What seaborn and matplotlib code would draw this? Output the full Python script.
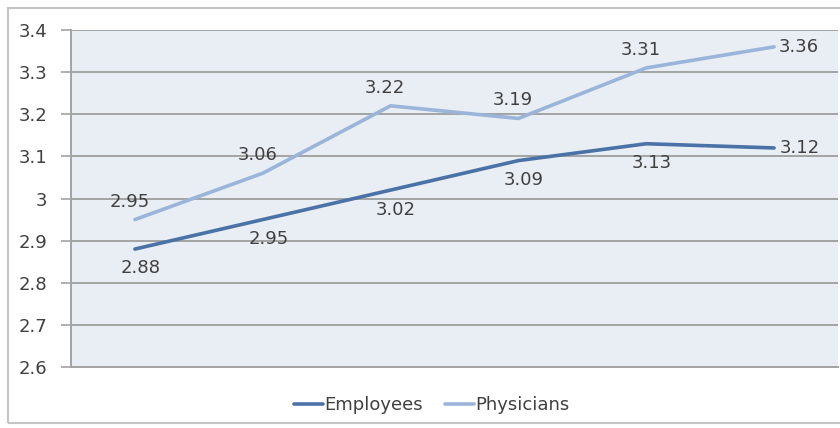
import pandas as pd
import matplotlib.pyplot as plt
import seaborn as sns
from matplotlib.patches import Rectangle

# Valores (6 períodos, sem rótulos no eixo x)
periodos = [1, 2, 3, 4, 5, 6]
employees = [2.88, 2.95, 3.02, 3.09, 3.13, 3.12]
physicians = [2.95, 3.06, 3.22, 3.19, 3.31, 3.36]
y_ticks = [2.6, 2.7, 2.8, 2.9, 3.0, 3.1, 3.2, 3.3, 3.4]
y_labels = ["2.6", "2.7", "2.8", "2.9", "3", "3.1", "3.2", "3.3", "3.4"]

df = pd.DataFrame({
    "periodo": periodos * 2,
    "valor": employees + physicians,
    "grupo": ["Employees"] * len(employees) + ["Physicians"] * len(physicians),
})

cores = {"Employees": "#4a72a6", "Physicians": "#9ab5d9"}
texto = "#404040"

sns.set_style("white")
plt.rcParams["font.family"] = ["DejaVu Sans"]

fig = plt.figure(figsize=(8.4, 4.28), dpi=100)
ax = fig.add_axes([71 / 840, 1 - 367 / 428, (838 - 71) / 840, (367 - 30) / 428])

sns.lineplot(data=df, x="periodo", y="valor", hue="grupo", palette=cores,
             linewidth=2.6, ax=ax, legend=False)

ax.set_facecolor("#e9edf4")
ax.set_xlim(periodos[0] - 0.5, periodos[-1] + 0.5)
ax.set_ylim(2.6, 3.4)
ax.set_yticks(y_ticks)
ax.set_yticklabels(y_labels)
ax.set_xticks([])
ax.set_xlabel("")
ax.set_ylabel("")
ax.grid(axis="y", color="#a3a3a3", linewidth=1.4)
ax.set_axisbelow(True)
ax.tick_params(axis="y", length=7, width=1.2, color="#a3a3a3", pad=10,
               labelsize=13, labelcolor=texto, left=True)
for lado in ["top", "right"]:
    ax.spines[lado].set_visible(False)
ax.spines["left"].set_color("#a3a3a3")
ax.spines["left"].set_linewidth(1.4)
ax.spines["bottom"].set_color("#a3a3a3")
ax.spines["bottom"].set_linewidth(1.4)

# Rótulos dos pontos
n = len(periodos)
for i, (x, v) in enumerate(zip(periodos, employees)):
    if i == n - 1:
        ax.annotate(f"{v:.2f}", (x, v), xytext=(4, 0), textcoords="offset points",
                    ha="left", va="center", fontsize=13, color=texto)
    else:
        ax.annotate(f"{v:.2f}", (x, v), xytext=(4, -14), textcoords="offset points",
                    ha="center", va="center", fontsize=13, color=texto)
for i, (x, v) in enumerate(zip(periodos, physicians)):
    if i == n - 1:
        ax.annotate(f"{v:.2f}", (x, v), xytext=(3, 0), textcoords="offset points",
                    ha="left", va="center", fontsize=13, color=texto)
    else:
        ax.annotate(f"{v:.2f}", (x, v), xytext=(-4, 13), textcoords="offset points",
                    ha="center", va="center", fontsize=13, color=texto)

# Legenda
handles = [plt.Line2D([], [], color=cores[g], linewidth=2.6) for g in ["Employees", "Physicians"]]
fig.legend(handles, ["Employees", "Physicians"], loc="center",
           bbox_to_anchor=(432 / 840, 1 - 405 / 428), ncol=2, frameon=False,
           fontsize=13, handlelength=1.6, handletextpad=0.1, columnspacing=1.2,
           labelcolor=texto)

# Moldura externa do gráfico (a borda direita fica fora da imagem)
fig.patches.append(Rectangle((8 / 840, 5 / 428), 1.2, (423 - 8) / 428,
                             transform=fig.transFigure, fill=False,
                             edgecolor="#c4c4c4", linewidth=1.5))

fig.savefig("out.png", dpi=100)
plt.close(fig)
